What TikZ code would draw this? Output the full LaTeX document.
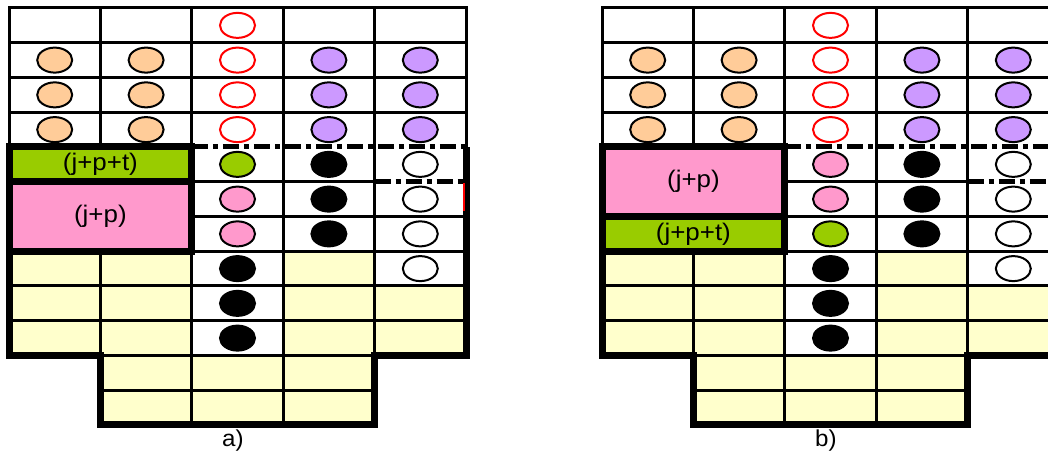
\documentclass[tikz,border=0pt]{standalone}
\usepackage{fontspec}
\setmainfont{Liberation Sans}
\usetikzlibrary{shapes.geometric}
\definecolor{myorange}{RGB}{255,204,153}
\definecolor{mypurple}{RGB}{204,153,255}
\definecolor{mygreen}{RGB}{153,204,0}
\definecolor{mypink}{RGB}{255,153,204}
\definecolor{myyellow}{RGB}{255,255,204}
\tikzset{
  panel/.style={shift={(#1,454pt)}, x=91.4pt, y=-34.75pt},
  oval/.style={ellipse, draw, line width=2pt, inner sep=0,
    minimum width=35pt, minimum height=25pt},
  orangeoval/.style={oval, fill=myorange},
  purpleoval/.style={oval, fill=mypurple},
  redoval/.style={oval, draw=red, fill=white},
  greenoval/.style={oval, fill=mygreen},
  pinkoval/.style={oval, fill=mypink},
  blackoval/.style={oval, fill=black},
  whiteoval/.style={oval, fill=white},
  gridline/.style={line width=3pt},
  dashline/.style={line width=5pt, dash pattern=on 16pt off 5pt on 5pt off 5pt},
  outline/.style={line width=7pt},
  block/.style={draw, line width=7pt},
  blocktext/.style={font=\fontsize{24}{28}\selectfont, xscale=1.08},
  caption/.style={font=\fontsize{23}{27}\selectfont, xscale=1.05}
}

% grid, borders and ovals shared by both panels
\newcommand{\basegrid}[1]{
  \fill[myyellow] (0,7) rectangle (2,10) (3,7) rectangle (4,10)
    (4,8) rectangle (5,10) (1,10) rectangle (4,12);
  \draw[gridline] (0,4) -- (0,0) -- (5,0) -- (5,4);
  \foreach \r in {1,2,3} \draw[gridline] (0,\r) -- (5,\r);
  \foreach \r in {6,...,9} \draw[gridline] (2,\r) -- (5,\r);
  \foreach \r in {8,9} \draw[gridline] (0,\r) -- (2,\r);
  \draw[gridline] (2,5) -- (4,5) (1,10) -- (4,10) (1,11) -- (4,11);
  \foreach \c in {1,...,4} \draw[gridline] (\c,0) -- (\c,10);
  \foreach \c in {2,3} \draw[gridline] (\c,10) -- (\c,12);
  \draw[dashline] (2,4) -- (5,4);
  \draw[dashline] (4,5) -- (5,5);
  \draw[outline] (0,4) -- (0,10) -- (1,10) -- (1,12) -- (4,12) -- (4,10) -- (5,10) -- (5,4);
  \node[redoval] (#1-r0) at (2.5,0.5) {};
  \foreach \r in {1,2,3} {
    \node[orangeoval] (#1-o0-\r) at (0.5,\r+0.5) {};
    \node[orangeoval] (#1-o1-\r) at (1.5,\r+0.5) {};
    \node[redoval] (#1-r\r) at (2.5,\r+0.5) {};
    \node[purpleoval] (#1-p3-\r) at (3.5,\r+0.5) {};
    \node[purpleoval] (#1-p4-\r) at (4.5,\r+0.5) {};
  }
  \foreach \r in {4,5,6} \node[blackoval] (#1-k3-\r) at (3.5,\r+0.5) {};
  \foreach \r in {7,8,9} \node[blackoval] (#1-k2-\r) at (2.5,\r+0.5) {};
  \foreach \r in {4,...,7} \node[whiteoval] (#1-w4-\r) at (4.5,\r+0.5) {};
}

\begin{document}
\begin{tikzpicture}
\clip (0,0) rectangle (1048pt,462pt);
\fill[white] (0,0) rectangle (1048pt,462pt);

% a)
\begin{scope}[panel=9pt]
\basegrid{a}
\draw[block, fill=mygreen] (0,4) rectangle (2,5);
\draw[block, fill=mypink] (0,5) rectangle (2,7);
\node[blocktext] (a-jpt) at (1,4.5) {(j+p+t)};
\node[blocktext] (a-jp) at (1,6) {(j+p)};
\node[greenoval] (a-g4) at (2.5,4.5) {};
\node[pinkoval] (a-m5) at (2.5,5.5) {};
\node[pinkoval] (a-m6) at (2.5,6.5) {};
\draw[red, line width=2pt] ([xshift=-2pt]5,5.05) -- ([xshift=-2pt]5,5.85);
\node[caption] (a-label) at (2.45,12.45) {a)};
\end{scope}

% b)
\begin{scope}[panel=602pt]
\basegrid{b}
\draw[block, fill=mypink] (0,4) rectangle (2,6);
\draw[block, fill=mygreen] (0,6) rectangle (2,7);
\node[blocktext] (b-jp) at (1,5) {(j+p)};
\node[blocktext] (b-jpt) at (1,6.5) {(j+p+t)};
\node[pinkoval] (b-m4) at (2.5,4.5) {};
\node[pinkoval] (b-m5) at (2.5,5.5) {};
\node[greenoval] (b-g6) at (2.5,6.5) {};
\node[caption] (b-label) at (2.45,12.45) {b)};
\end{scope}

\end{tikzpicture}
\end{document}
